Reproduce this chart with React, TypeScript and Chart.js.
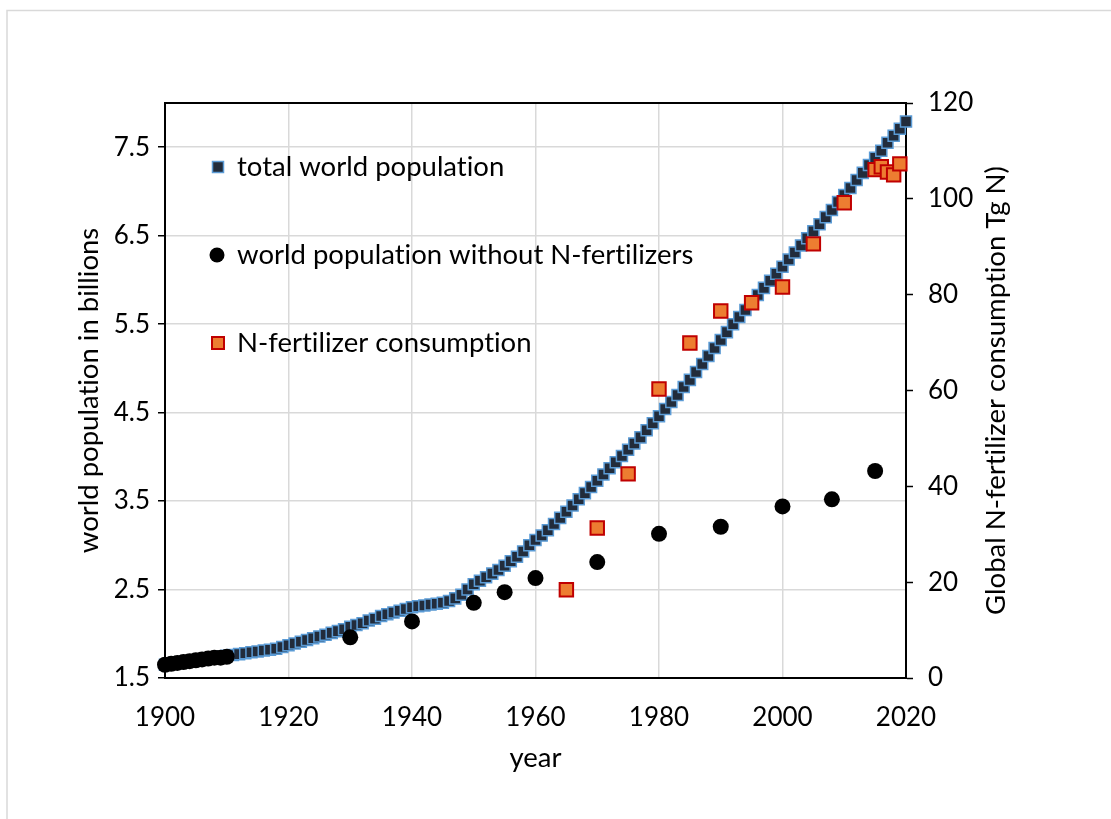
import React, { useEffect, useRef } from 'react';
import { Chart, registerables } from 'chart.js';

Chart.register(...registerables);

const FONT = 'Lato, "Open Sans", sans-serif';

// total world population (billions), annual
const popYears = [
  1900, 1901, 1902, 1903, 1904, 1905, 1906, 1907, 1908, 1909,
  1910, 1911, 1912, 1913, 1914, 1915, 1916, 1917, 1918, 1919,
  1920, 1921, 1922, 1923, 1924, 1925, 1926, 1927, 1928, 1929,
  1930, 1931, 1932, 1933, 1934, 1935, 1936, 1937, 1938, 1939,
  1940, 1941, 1942, 1943, 1944, 1945, 1946, 1947, 1948, 1949,
  1950, 1951, 1952, 1953, 1954, 1955, 1956, 1957, 1958, 1959,
  1960, 1961, 1962, 1963, 1964, 1965, 1966, 1967, 1968, 1969,
  1970, 1971, 1972, 1973, 1974, 1975, 1976, 1977, 1978, 1979,
  1980, 1981, 1982, 1983, 1984, 1985, 1986, 1987, 1988, 1989,
  1990, 1991, 1992, 1993, 1994, 1995, 1996, 1997, 1998, 1999,
  2000, 2001, 2002, 2003, 2004, 2005, 2006, 2007, 2008, 2009,
  2010, 2011, 2012, 2013, 2014, 2015, 2016, 2017, 2018, 2019,
  2020,
];
const totalPopulation = [
  1.65, 1.66, 1.67, 1.68, 1.69, 1.70, 1.71, 1.72, 1.73, 1.74,
  1.75, 1.76, 1.77, 1.78, 1.79, 1.80, 1.81, 1.82, 1.83, 1.85,
  1.87, 1.89, 1.91, 1.93, 1.95, 1.97, 1.99, 2.01, 2.03, 2.05,
  2.08, 2.10, 2.12, 2.15, 2.17, 2.20, 2.22, 2.24, 2.26, 2.28,
  2.30, 2.31, 2.32, 2.33, 2.34, 2.35, 2.37, 2.40, 2.44, 2.50,
  2.56, 2.60, 2.64, 2.68, 2.72, 2.77, 2.82, 2.87, 2.93, 3.00,
  3.06, 3.11, 3.17, 3.24, 3.31, 3.38, 3.45, 3.52, 3.59, 3.66,
  3.73, 3.80, 3.87, 3.94, 4.01, 4.08, 4.15, 4.22, 4.30, 4.38,
  4.46, 4.54, 4.62, 4.70, 4.79, 4.87, 4.96, 5.05, 5.14, 5.23,
  5.32, 5.41, 5.50, 5.58, 5.66, 5.75, 5.83, 5.91, 5.99, 6.07,
  6.15, 6.23, 6.31, 6.39, 6.47, 6.55, 6.63, 6.71, 6.79, 6.88,
  6.96, 7.04, 7.13, 7.21, 7.30, 7.38, 7.46, 7.55, 7.63, 7.71,
  7.79,
];

// world population without N-fertilizers (billions)
const noFertYears = [
  1900, 1901, 1902, 1903, 1904, 1905, 1906, 1907, 1908, 1909, 1910,
  1930, 1940, 1950, 1955, 1960, 1970, 1980, 1990, 2000, 2008, 2015,
];
const noFertPopulation = [
  1.65, 1.66, 1.67, 1.68, 1.69, 1.70, 1.71, 1.72, 1.73, 1.73, 1.74,
  1.96, 2.14, 2.35, 2.47, 2.63, 2.81, 3.13, 3.21, 3.44, 3.52, 3.84,
];

// N-fertilizer consumption (Tg N)
const fertYears = [1965, 1970, 1975, 1980, 1985, 1990, 1995, 2000, 2005, 2010, 2015, 2016, 2017, 2018, 2019];
const fertConsumption = [18.4, 31.3, 42.6, 60.3, 69.9, 76.6, 78.3, 81.6, 90.6, 99.2, 106.1, 106.7, 105.6, 105.0, 107.3];

const xTicks = [1900, 1920, 1940, 1960, 1980, 2000, 2020];
const leftTicks = [1.5, 2.5, 3.5, 4.5, 5.5, 6.5, 7.5];
const rightTicks = [0, 20, 40, 60, 80, 100, 120];

const legendLabels = ['total world population', 'world population without N-fertilizers', 'N-fertilizer consumption'];
const xTitle = 'year';
const leftTitle = 'world population in billions';
const rightTitle = 'Global N-fertilizer consumption Tg N)';

const NAVY = '#222c3b';
const NAVY_EDGE = '#5b9bd5';
const ORANGE = '#ed7d31';
const RED = '#c00000';
const GRID = '#d9d9d9';

const overlayPlugin = {
  id: 'overlay',
  beforeDraw(chart: any) {
    const { ctx, width, height } = chart;
    try { (ctx as any).textRendering = 'optimizeSpeed'; } catch (e) { /* ignore */ }
    ctx.save();
    ctx.fillStyle = '#ffffff';
    ctx.fillRect(0, 0, width, height);
    ctx.strokeStyle = GRID;
    ctx.lineWidth = 1.5;
    ctx.beginPath();
    ctx.moveTo(7, height);
    ctx.lineTo(7, 10.5);
    ctx.lineTo(width, 10.5);
    ctx.stroke();
    ctx.restore();
  },
  beforeDatasetsDraw(chart: any) {
    const { ctx, chartArea: a } = chart;
    ctx.save();
    ctx.strokeStyle = '#000';
    ctx.lineWidth = 2;
    ctx.strokeRect(a.left, a.top, a.right - a.left, a.bottom - a.top);
    ctx.restore();
  },
  afterDraw(chart: any) {
    const { ctx, chartArea: a } = chart;
    ctx.save();
    try { (ctx as any).textRendering = 'optimizeSpeed'; } catch (e) { /* ignore */ }
    // legend
    const rows = [167, 255, 343];
    const mx = 218;
    const tx = 237;
    // marker 1: navy square
    ctx.fillStyle = NAVY;
    ctx.strokeStyle = NAVY_EDGE;
    ctx.lineWidth = 1.5;
    ctx.fillRect(mx - 5.5, rows[0] - 5.5, 11, 11);
    ctx.strokeRect(mx - 5.5, rows[0] - 5.5, 11, 11);
    // marker 2: black dot
    ctx.fillStyle = '#000';
    ctx.beginPath();
    ctx.arc(mx - 1, rows[1], 7.5, 0, Math.PI * 2);
    ctx.fill();
    // marker 3: orange square
    ctx.fillStyle = ORANGE;
    ctx.strokeStyle = RED;
    ctx.lineWidth = 2;
    ctx.fillRect(mx - 6, rows[2] - 6, 12, 12);
    ctx.strokeRect(mx - 6, rows[2] - 6, 12, 12);
    ctx.fillStyle = '#000';
    ctx.font = `27.5px ${FONT}`;
    ctx.textAlign = 'left';
    ctx.textBaseline = 'middle';
    legendLabels.forEach((t, i) => ctx.fillText(t, tx, rows[i]));
    // right axis title, reading bottom to top
    ctx.font = `27.5px ${FONT}`;
    ctx.translate(996, (a.top + a.bottom) / 2);
    ctx.rotate(-Math.PI / 2);
    ctx.textAlign = 'center';
    ctx.fillText(rightTitle, 0, 0);
    ctx.restore();
  },
};

export default function App() {
  const ref = useRef<HTMLCanvasElement>(null);
  useEffect(() => {
    const chart = new Chart(ref.current as HTMLCanvasElement, {
      type: 'scatter',
      data: {
        datasets: [
          {
            label: legendLabels[0],
            data: popYears.map((y, i) => ({ x: y, y: totalPopulation[i] })),
            yAxisID: 'y',
            pointStyle: 'rect',
            pointRadius: 7.8,
            pointBackgroundColor: NAVY,
            pointBorderColor: NAVY_EDGE,
            pointBorderWidth: 1.5,
            showLine: false,
            clip: false,
            order: 3,
          },
          {
            label: legendLabels[1],
            data: noFertYears.map((y, i) => ({ x: y, y: noFertPopulation[i] })),
            yAxisID: 'y',
            pointStyle: 'circle',
            pointRadius: 8,
            pointBackgroundColor: '#000',
            pointBorderColor: '#000',
            pointBorderWidth: 0,
            showLine: false,
            clip: false,
            order: 2,
          },
          {
            label: legendLabels[2],
            data: fertYears.map((y, i) => ({ x: y, y: fertConsumption[i] })),
            yAxisID: 'y2',
            pointStyle: 'rect',
            pointRadius: 9.5,
            pointBackgroundColor: ORANGE,
            pointBorderColor: RED,
            pointBorderWidth: 2,
            showLine: false,
            clip: false,
            order: 1,
          },
        ],
      },
      options: {
        animation: false,
        responsive: false,
        events: [],
        layout: { autoPadding: false, padding: { top: 103, left: 0, right: 0, bottom: 0 } },
        plugins: { legend: { display: false }, tooltip: { enabled: false } },
        scales: {
          x: {
            type: 'linear',
            position: 'bottom',
            min: 1900,
            max: 2020,
            afterBuildTicks: (s: any) => { s.ticks = xTicks.map((v) => ({ value: v })); },
            afterFit: (s: any) => { s.height = 141; },
            ticks: {
              color: '#000',
              font: { family: FONT, size: 26 },
              padding: 24,
              maxRotation: 0,
              callback: (v: any) => String(v),
            },
            grid: { color: GRID, lineWidth: 1.5, drawTicks: false },
            border: { display: true, color: '#000', width: 2 },
            title: {
              display: true,
              text: xTitle,
              color: '#000',
              font: { family: FONT, size: 27.5 },
              padding: { top: 0, bottom: 44 },
            },
          },
          y: {
            type: 'linear',
            position: 'left',
            min: 1.5,
            max: 8,
            afterBuildTicks: (s: any) => { s.ticks = leftTicks.map((v) => ({ value: v })); },
            afterFit: (s: any) => { s.width = 165; },
            ticks: {
              color: '#000',
              font: { family: FONT, size: 26 },
              padding: 8,
              callback: (v: any) => Number(v).toFixed(1),
            },
            grid: { color: GRID, lineWidth: 1.5, tickColor: '#000', tickLength: 7, tickWidth: 1.5 },
            border: { display: true, color: '#000', width: 2 },
            title: {
              display: true,
              text: leftTitle,
              color: '#000',
              font: { family: FONT, size: 27.5 },
              padding: { top: 73, bottom: 0 },
            },
          },
          y2: {
            type: 'linear',
            position: 'right',
            min: 0,
            max: 120,
            afterBuildTicks: (s: any) => { s.ticks = rightTicks.map((v) => ({ value: v })); },
            afterFit: (s: any) => { s.width = 205; },
            ticks: {
              color: '#000',
              font: { family: FONT, size: 26 },
              padding: 15,
              callback: (v: any) => String(v),
            },
            grid: { drawOnChartArea: false, tickColor: '#000', tickLength: 7, tickWidth: 1.5 },
            border: { display: true, color: '#000', width: 2 },
          },
        },
      },
      plugins: [overlayPlugin],
    } as any);
    return () => chart.destroy();
  }, []);
  return (
    <div style={{ position: 'absolute', left: 0, top: 0, width: 1111, height: 819, background: '#fff' }}>
      <canvas ref={ref} width={1111} height={819} style={{ display: 'block' }} />
    </div>
  );
}
